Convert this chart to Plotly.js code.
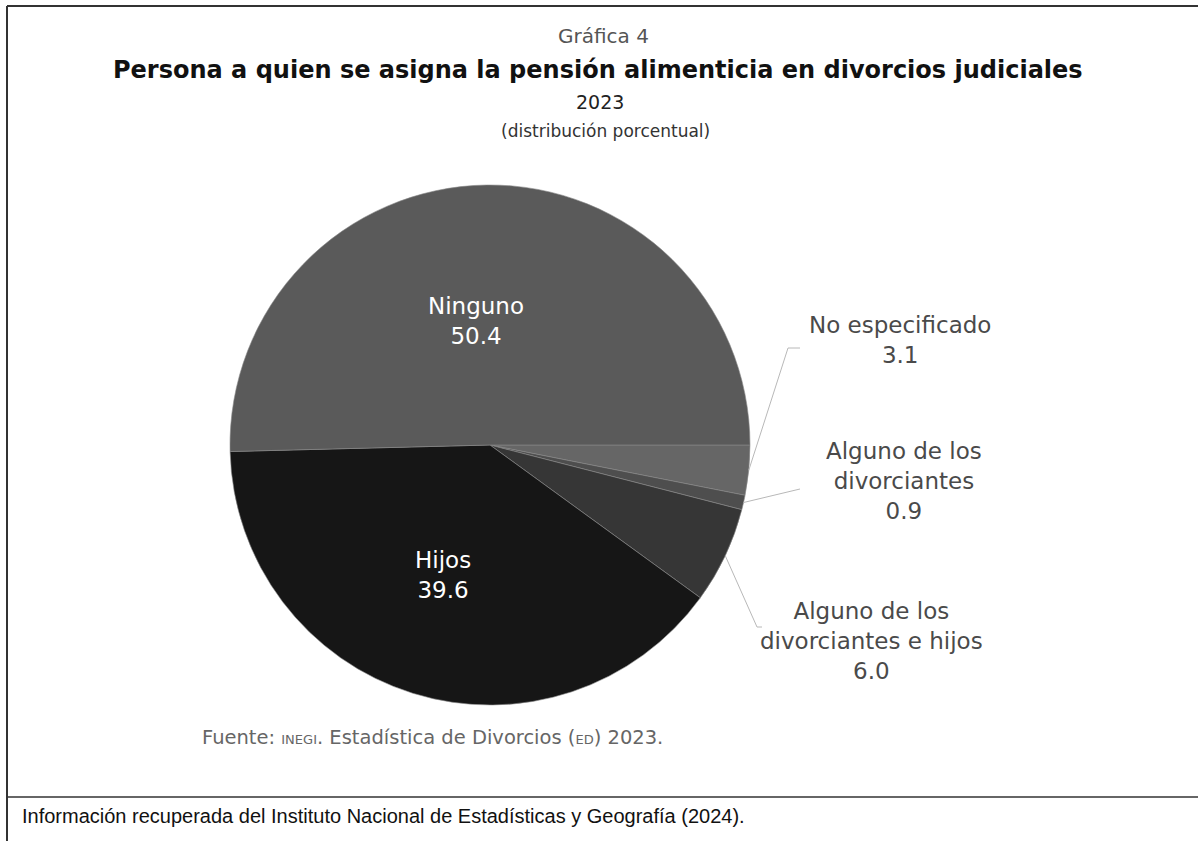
<!DOCTYPE html>
<html>
<head>
<meta charset="utf-8">
<script src="https://cdn.plot.ly/plotly-3.0.1.min.js"></script>
<style>
  html, body { margin: 0; padding: 0; background: #ffffff; }
  #chart { width: 1198px; height: 841px; }
</style>
</head>
<body>
<div id="chart"></div>
<script>
// ---- Data ----
var categories = ['No especificado', 'Alguno de los divorciantes', 'Alguno de los divorciantes e hijos', 'Hijos', 'Ninguno'];
var displayLabels = ['No especificado', 'Alguno de los<br>divorciantes', 'Alguno de los<br>divorciantes e hijos', 'Hijos', 'Ninguno'];
var values = [3.1, 0.9, 6.0, 39.6, 50.4];
var sliceColors = ['#666666', '#4e4e4e', '#363636', '#161616', '#5a5a5a'];

var kickerText = 'Gráfica 4';
var mainTitle = 'Persona a quien se asigna la pensión alimenticia en divorcios judiciales';
var yearText = '2023';
var unitText = '(distribución porcentual)';
var sourceNote = 'Fuente: <span style="font-size:13px">INEGI</span>. Estadística de Divorcios (<span style="font-size:13px">ED</span>) 2023.';
var caption = 'Información recuperada del Instituto Nacional de Estadísticas y Geografía (2024).';

// ---- Layout helpers ----
var W = 1198, H = 841;
function px(x) { return x / W; }
function py(y) { return 1 - y / H; }
var FONT = 'DejaVu Sans, Verdana, sans-serif';
var FONT2 = 'Liberation Sans, Arial, sans-serif';

// pie geometry (pixels)
var cx = 490, cy = 445, R = 260;

// label placement (pixels)
var outsidePos = {
  0: {x: 900, y: 340, lx: 800, ly: 348, elbow: {x: 788, y: 348}},
  1: {x: 904, y: 481, lx: 800, ly: 489},
  2: {x: 871, y: 641, lx: 762, ly: 627, elbow: {x: 757, y: 627}}
};
var insidePos = {
  3: {x: 443, y: 575},
  4: {x: 476, y: 321}
};

var total = values.reduce(function (a, b) { return a + b; }, 0);
function fmt(v) { return v.toFixed(1); }

var annotations = [];
var shapes = [];

function addText(text, x, y, size, color, family, xanchor) {
  annotations.push({text: text, x: px(x), y: py(y), xref: 'paper', yref: 'paper', showarrow: false,
    font: {family: family || FONT, size: size, color: color}, xanchor: xanchor || 'center', yanchor: 'middle', align: 'center'});
}

// Titles
addText(kickerText, 603, 36, 20, '#555555');
addText('<b>' + mainTitle + '</b>', 598, 70, 24, '#111111');
addText(yearText, 600, 102, 19, '#222222');
addText(unitText, 605, 131, 17, '#333333');

// Slice labels + leader lines (edge point computed from the data)
var cum = 0;
values.forEach(function (v, i) {
  var startFrac = cum / total;
  cum += v;
  var midFrac = (startFrac + cum / total) / 2;
  var ang = midFrac * 2 * Math.PI; // clockwise from 3 o'clock
  var ex = cx + R * Math.cos(ang), ey = cy + R * Math.sin(ang);
  if (outsidePos[i]) {
    var p = outsidePos[i];
    addText(displayLabels[i] + '<br>' + fmt(v), p.x, p.y, 23, '#4a4a4a');
    var path = 'M' + px(ex) + ',' + py(ey);
    if (p.elbow) path += ' L' + px(p.elbow.x) + ',' + py(p.elbow.y);
    path += ' L' + px(p.lx) + ',' + py(p.ly);
    shapes.push({type: 'path', xref: 'paper', yref: 'paper', path: path, line: {color: '#b8b8b8', width: 1}});
  } else if (insidePos[i]) {
    var q = insidePos[i];
    addText(displayLabels[i] + '<br>' + fmt(v), q.x, q.y, 23, '#ffffff');
  }
});

// Source note & caption
addText(sourceNote, 200, 737, 19.5, '#666666', FONT, 'left');
addText(caption, 20, 816, 20, '#111111', FONT2, 'left');

// Frame lines
shapes.push({type: 'line', xref: 'paper', yref: 'paper', x0: px(7), x1: 1, y0: py(6), y1: py(6), line: {color: '#333333', width: 2}});
shapes.push({type: 'line', xref: 'paper', yref: 'paper', x0: px(7), x1: px(7), y0: py(6), y1: 0, line: {color: '#333333', width: 2}});
shapes.push({type: 'line', xref: 'paper', yref: 'paper', x0: px(7), x1: 1, y0: py(797), y1: py(797), line: {color: '#333333', width: 1.5}});

var trace = {
  type: 'pie',
  labels: categories,
  values: values,
  sort: false,
  direction: 'clockwise',
  rotation: 90,
  textinfo: 'none',
  hoverinfo: 'label+value',
  marker: {colors: sliceColors, line: {color: '#8a8a8a', width: 0.6}},
  domain: {x: [px(cx - R), px(cx + R)], y: [py(cy + R), py(cy - R)]},
  showlegend: false
};

var layout = {
  width: W, height: H,
  margin: {l: 0, r: 0, t: 0, b: 0},
  paper_bgcolor: '#ffffff',
  plot_bgcolor: '#ffffff',
  showlegend: false,
  annotations: annotations,
  shapes: shapes
};

Plotly.newPlot('chart', [trace], layout, {displayModeBar: false, staticPlot: true});
</script>
</body>
</html>
